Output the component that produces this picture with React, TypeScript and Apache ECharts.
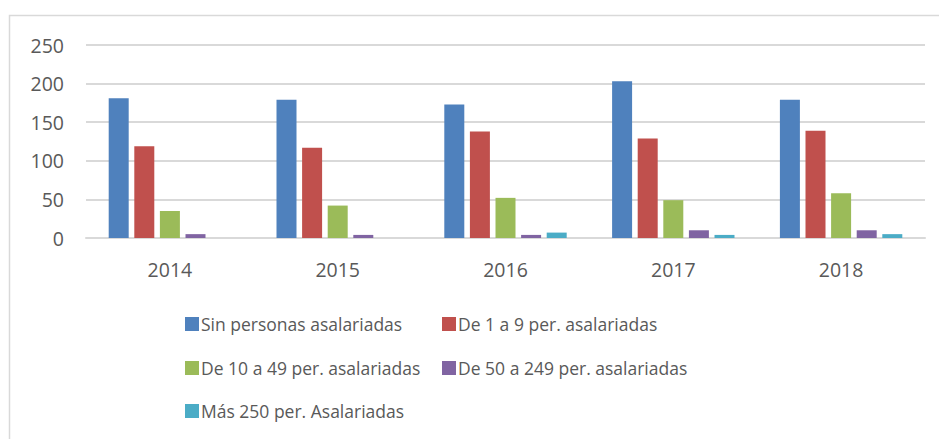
import React, { useEffect, useRef } from "react";
import * as echarts from "echarts";

const years = ["2014", "2015", "2016", "2017", "2018"];
const seriesNames = [
  "Sin personas asalariadas",
  "De 1 a 9 per. asalariadas",
  "De 10 a 49 per. asalariadas",
  "De 50 a 249 per. asalariadas",
  "Más 250 per. Asalariadas",
];
const sinPersonas = [181, 179, 173, 203, 179];
const de1a9 = [119, 117, 138, 129, 139];
const de10a49 = [35, 42, 52, 49, 58];
const de50a249 = [5, 4, 4, 10, 10];
const mas250 = [0, 0, 7, 4, 5];
const colors = ["#4F81BD", "#C0504D", "#9BBB59", "#8064A2", "#4BACC6"];
const yTicks = { min: 0, max: 250, interval: 50 };

const FONT = "'Open Sans', sans-serif";
const TXT = "#595959";

export default function App() {
  const ref = useRef<HTMLDivElement>(null);
  useEffect(() => {
    if (!ref.current) return;
    const chart = echarts.init(ref.current, null, { renderer: "svg" });
    const values = [sinPersonas, de1a9, de10a49, de50a249, mas250];
    const legendPos = [
      { left: 180, top: 310 },
      { left: 437, top: 310 },
      { left: 180, top: 354 },
      { left: 437, top: 354 },
      { left: 180, top: 397 },
    ];
    chart.setOption({
      animation: false,
      color: colors,
      graphic: [
        {
          type: "rect",
          shape: { x: 9.5, y: 15.5, width: 1000, height: 1000 },
          style: { fill: "none", stroke: "#d9d9d9", lineWidth: 1.5 },
          silent: true,
        },
      ],
      grid: { left: 86, right: 14, top: 45, bottom: 201 },
      xAxis: {
        type: "category",
        data: years,
        axisLine: { show: true, lineStyle: { color: "#d9d9d9", width: 2 } },
        axisTick: { show: false },
        axisLabel: { color: TXT, fontFamily: FONT, fontSize: 19.5, margin: 21 },
      },
      yAxis: {
        type: "value",
        min: yTicks.min,
        max: yTicks.max,
        interval: yTicks.interval,
        axisLine: { show: false },
        axisTick: { show: false },
        splitLine: { lineStyle: { color: "#d9d9d9", width: 2 } },
        axisLabel: { color: TXT, fontFamily: FONT, fontSize: 19.5, margin: 22 },
      },
      legend: seriesNames.map((n, i) => ({
        data: [n],
        left: legendPos[i].left,
        top: legendPos[i].top,
        itemWidth: 14,
        itemHeight: 14,
        itemGap: 0,
        icon: "rect",
        textStyle: { color: TXT, fontFamily: FONT, fontSize: 17.5, padding: [0, 0, 0, -3] },
      })),
      series: seriesNames.map((n, i) => ({
        name: n,
        type: "bar",
        data: values[i],
        barWidth: 20,
        barGap: "28%",
        itemStyle: { color: colors[i] },
      })),
    });
    return () => chart.dispose();
  }, []);
  return (
    <div
      ref={ref}
      style={{ position: "absolute", left: 0, top: 0, width: 939, height: 439 }}
    />
  );
}
